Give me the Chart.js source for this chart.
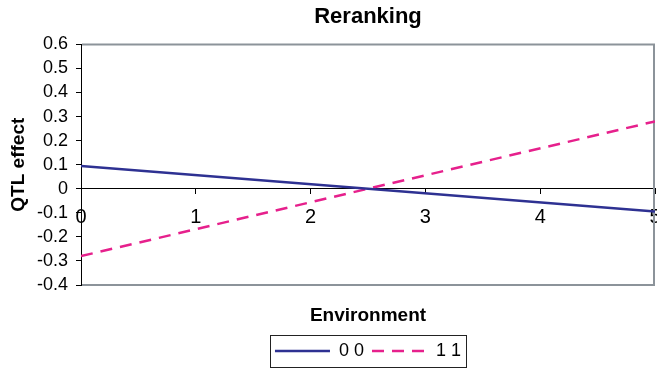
<!DOCTYPE html>
<html>
<head>
<meta charset="utf-8">
<script src="https://cdn.jsdelivr.net/npm/chart.js@4/dist/chart.umd.min.js"></script>
<style>
    html, body { margin: 0; padding: 0; background: #ffffff; }
    #wrap { width: 657px; height: 370px; }
</style>
</head>
<body>
<div id="wrap"><canvas id="qtl-chart" width="657" height="370"></canvas></div>
<script>
const chartTitle = "Reranking";
const xTitle = "Environment";
const yTitle = "QTL effect";
const seriesNames = ["0 0", "1 1"];
const xValues = [0, 5];
const series00 = [0.095, -0.095];
const series11 = [-0.28, 0.28];
const xTicks = [0, 1, 2, 3, 4, 5];
const yTicks = [-0.4, -0.3, -0.2, -0.1, 0, 0.1, 0.2, 0.3, 0.4, 0.5, 0.6];

const FONT = "Arial, 'Liberation Sans', sans-serif";
const BORDER_GRAY = "#8c939a";

function toPoints(ys) {
    return xValues.map(function (x, i) { return { x: x, y: ys[i] }; });
}

// gray frame on top/right/bottom of the plot, like the Excel plot area
const plotFrame = {
    id: "plotFrame",
    beforeDatasetsDraw: function (chart) {
        const a = chart.chartArea;
        const ctx = chart.ctx;
        ctx.save();
        ctx.strokeStyle = BORDER_GRAY;
        ctx.lineWidth = 2;
        ctx.beginPath();
        ctx.moveTo(a.left + 1, a.top);
        ctx.lineTo(a.right - 1, a.top);
        ctx.lineTo(a.right - 1, a.bottom);
        ctx.lineTo(a.left + 1, a.bottom);
        ctx.stroke();
        ctx.restore();
    }
};

// box around the legend entries
const legendFrame = {
    id: "legendFrame",
    afterDraw: function (chart) {
        const boxes = chart.legend && chart.legend.legendHitBoxes;
        if (!boxes || !boxes.length) return;
        let l = Infinity, r = -Infinity, t = Infinity, b = -Infinity;
        boxes.forEach(function (h) {
            l = Math.min(l, h.left);
            r = Math.max(r, h.left + h.width);
            t = Math.min(t, h.top);
            b = Math.max(b, h.top + h.height);
        });
        const ctx = chart.ctx;
        ctx.save();
        ctx.strokeStyle = "#222222";
        ctx.lineWidth = 1;
        ctx.strokeRect(Math.round(l - 5) + 0.5, Math.round(t - 7) + 0.5, Math.round(r - l + 10), Math.round(b - t + 14));
        ctx.restore();
    }
};

new Chart(document.getElementById("qtl-chart").getContext("2d"), {
    type: "line",
    data: {
        datasets: [{
            label: seriesNames[0],
            data: toPoints(series00),
            borderColor: "#2e3192",
            backgroundColor: "#2e3192",
            borderWidth: 2.5,
            pointRadius: 0,
            tension: 0,
            xAxisID: "x",
            yAxisID: "y"
        }, {
            label: seriesNames[1],
            data: toPoints(series11),
            borderColor: "#e6208c",
            backgroundColor: "#e6208c",
            borderWidth: 2.5,
            borderDash: [12, 8],
            pointRadius: 0,
            tension: 0,
            xAxisID: "x",
            yAxisID: "y"
        }]
    },
    options: {
        responsive: false,
        animation: false,
        devicePixelRatio: 1,
        layout: { padding: { left: 0, right: 2, top: 0, bottom: 0 } },
        scales: {
            x: {
                type: "linear",
                position: { y: 0 },
                min: 0,
                max: 5,
                afterBuildTicks: function (scale) {
                    scale.ticks = xTicks.map(function (v) { return { value: v }; });
                },
                afterFit: function (scale) {
                    scale.paddingLeft = 0;
                    scale.paddingRight = 0;
                },
                ticks: {
                    color: "#000000",
                    padding: 12,
                    maxRotation: 0,
                    autoSkip: false,
                    font: { family: FONT, size: 20 },
                    callback: function (v) { return String(v); }
                },
                grid: { drawOnChartArea: false, tickLength: 5, color: "#000000" },
                border: { color: "#000000", width: 1 }
            },
            x2: {
                type: "linear",
                position: "bottom",
                afterFit: function (scale) {
                    scale.height = 49;
                    scale.paddingLeft = 0;
                    scale.paddingRight = 0;
                },
                ticks: { display: false },
                grid: { display: false, drawTicks: false },
                border: { display: false },
                title: {
                    display: true,
                    text: xTitle,
                    color: "#000000",
                    padding: { top: 0, bottom: 7 },
                    font: { family: FONT, size: 19, weight: "bold" }
                }
            },
            y: {
                type: "linear",
                position: "left",
                min: -0.4,
                max: 0.6,
                afterBuildTicks: function (scale) {
                    scale.ticks = yTicks.map(function (v) { return { value: v }; });
                },
                afterFit: function (scale) {
                    scale.width = 81;
                },
                ticks: {
                    color: "#000000",
                    padding: 8,
                    autoSkip: false,
                    font: { family: FONT, size: 18 },
                    callback: function (v) { return String(v); }
                },
                grid: { drawOnChartArea: false, tickLength: 5, color: "#000000" },
                border: { color: "#000000", width: 1 },
                title: {
                    display: true,
                    text: yTitle,
                    color: "#000000",
                    padding: { top: 7, bottom: 0 },
                    font: { family: FONT, size: 19, weight: "bold" }
                }
            }
        },
        plugins: {
            title: {
                display: true,
                text: chartTitle,
                fullSize: false,
                color: "#000000",
                padding: { top: 4, bottom: 14 },
                font: { family: FONT, size: 22, weight: "bold" }
            },
            legend: {
                display: true,
                position: "bottom",
                fullSize: false,
                labels: {
                    color: "#000000",
                    usePointStyle: true,
                    pointStyle: "line",
                    pointStyleWidth: 55,
                    padding: 8,
                    font: { family: FONT, size: 18 },
                    generateLabels: function (chart) {
                        return chart.data.datasets.map(function (ds, i) {
                            return {
                                text: ds.label,
                                datasetIndex: i,
                                fillStyle: ds.borderColor,
                                strokeStyle: ds.borderColor,
                                fontColor: "#000000",
                                lineWidth: 2.5,
                                lineDash: ds.borderDash || [],
                                pointStyle: "line",
                                hidden: false
                            };
                        });
                    }
                }
            },
            tooltip: { enabled: false }
        }
    },
    plugins: [plotFrame, legendFrame]
});
</script>
</body>
</html>
